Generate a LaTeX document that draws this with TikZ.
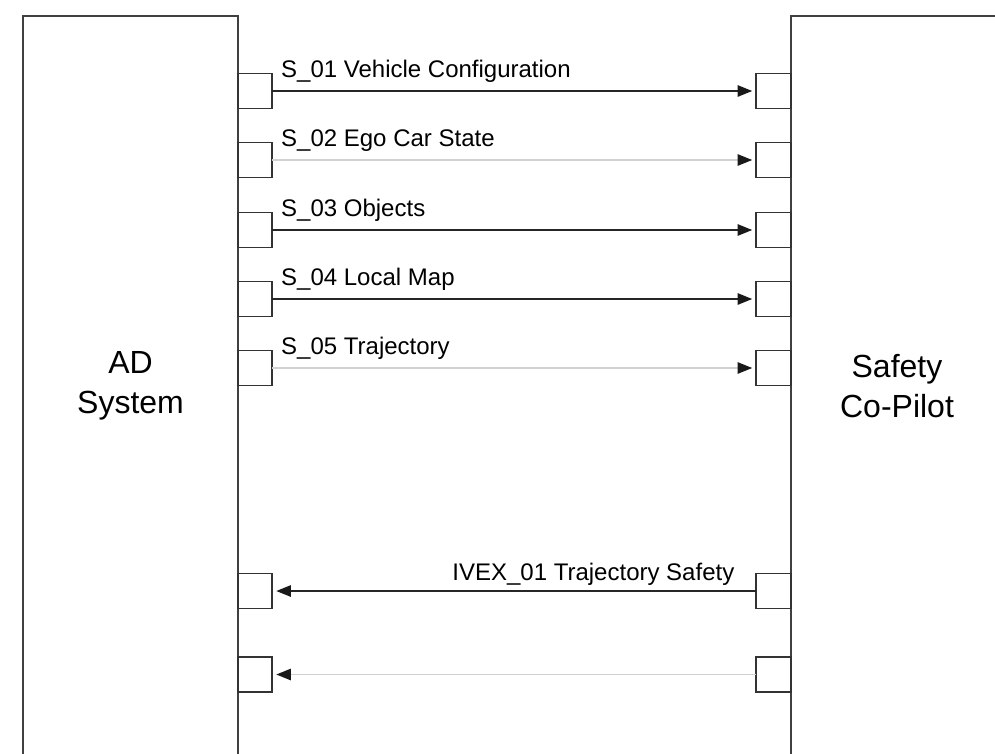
\documentclass[tikz,border=0pt]{standalone}
\usepackage{fontspec}
\setmainfont{Liberation Sans}
\usetikzlibrary{arrows.meta}
\tikzset{
    port/.style={draw=black!80, line width=1.3pt, minimum width=25.9pt, minimum height=26.3pt, inner sep=0pt, outer sep=0pt},
    sig/.style={line width=1.4pt, -{Triangle[length=11pt,width=8.5pt,color=black!90]}, shorten >=3pt},
    dark/.style={draw=black!85},
    pale/.style={draw=black!18},
    lbl/.style={font=\fontsize{18}{22}\selectfont, inner sep=0pt},
    blk/.style={font=\fontsize{24}{30}\selectfont, align=center, inner sep=0pt},
    frame/.style={line width=1.7pt, draw=black!75}
}
\begin{document}
\begin{tikzpicture}[x=0.75pt,y=-0.75pt]
    \useasboundingbox (0,0) rectangle (995,753);
    \clip (0,0) rectangle (995,753);
    % the two blocks
    \draw[frame] (23,780) |- (238,16) -- (238,780);
    \draw[frame] (791,780) |- (1010,16);
    \node[blk] (ad) at (130.5,386) {AD\\System};
    \node[blk] (scp) at (897,386) {Safety\\Co-Pilot};
    % signals to the co-pilot
    \foreach \i/\y/\c/\t in {1/91/dark/{S\_01 Vehicle Configuration},
                             2/160/pale/{S\_02 Ego Car State},
                             3/230/dark/{S\_03 Objects},
                             4/299/dark/{S\_04 Local Map},
                             5/368/pale/{S\_05 Trajectory}} {
        \node[port] (ad\i) at (255,\y) {};
        \node[port] (cp\i) at (773.5,\y) {};
        \draw[sig,\c] (ad\i) -- (cp\i) node[pos=0, lbl, anchor=base west, xshift=6pt, yshift=10.5pt] {\t};
    }
    % signals back to the AD system
    \foreach \i/\y in {6/591,7/674.5} {
        \node[port] (ad\i) at (255,\y) {};
        \node[port] (cp\i) at (773.5,\y) {};
    }
    \draw[sig,dark] (cp6) -- (ad6) node[pos=0, lbl, anchor=base east, xshift=-15.75pt, yshift=8.25pt] {IVEX\_01 Trajectory Safety};
    \draw[sig,pale] (cp7) -- (ad7);
\end{tikzpicture}
\end{document}
